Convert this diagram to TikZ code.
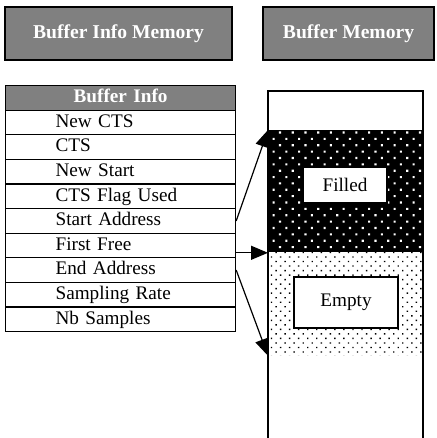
\documentclass[tikz,border=0pt]{standalone}
\usepackage{fontspec}
\setmainfont{Liberation Serif}
\usetikzlibrary{arrows.meta,patterns.meta}

\tikzset{
  title/.style={draw,line width=1.4pt,fill=black!50,text=white,font=\fontsize{9.8}{11}\selectfont\bfseries,inner sep=0pt},
  field/.style={draw,line width=0.6pt,anchor=north west,minimum height=12.3pt,text height=6.8pt,text depth=2pt,text width=65pt,inner xsep=25pt,inner ysep=0pt,align=left,font=\fontsize{9.6}{11}\selectfont},
  region/.style={anchor=north west,minimum width=77.5pt,inner sep=0pt},
  tag/.style={draw,line width=0.8pt,fill=white,inner sep=0pt,font=\fontsize{9.6}{11}\selectfont},
  link/.style={line width=0.6pt,-{Triangle[length=8.5pt,width=7pt]}}
}

\begin{document}
\begin{tikzpicture}[x=0.5pt,y=-0.5pt]
    \useasboundingbox (0,0) rectangle (436,438);
    %% Titles
    \node[title,minimum width=113.5pt,minimum height=26.5pt] (infomem) at (118.5,33.5) {Buffer Info Memory};
    \node[title,minimum width=85.5pt,minimum height=26.5pt] (bufmem) at (348.5,33.5) {Buffer Memory};
    %% Info table
    \node[field,fill=black!50,text=white,align=center,font=\fontsize{9.6}{11}\selectfont\bfseries] (row0) at (5,85) {Buffer Info};
    \foreach \lbl [count=\i] in {New CTS,CTS,New Start,CTS Flag Used,Start Address,First Free,End Address,Sampling Rate,Nb Samples}
        \node[field] (row\i) at (5,{85+24.6*\i}) {\lbl};
    %% Memory
    \node[region,minimum height=61pt,fill=black,postaction={pattern={Dots[distance=4.5pt,angle=45,radius=0.75pt]},pattern color=white}] (used) at (268,130) {};
    \node[region,minimum height=51.5pt,fill=white,postaction={pattern={Dots[distance=3.2pt,angle=45,radius=0.5pt]},pattern color=black}] (free) at (268,252) {};
    \draw[line width=0.9pt] (268,438) -- (268,91) -- (423,91) -- (423,438);
    \node[tag,minimum width=42pt,minimum height=18pt] (filled) at (345,185) {Filled};
    \node[tag,minimum width=52pt,minimum height=25.5pt] (empty) at (346,302.5) {Empty};
    %% Pointers
    \draw[link] (row5.east) -- (used.north west);
    \draw[link] (row6.east |- used.south west) -- (used.south west);
    \draw[link] (row7.east) -- (free.south west);
\end{tikzpicture}
\end{document}
